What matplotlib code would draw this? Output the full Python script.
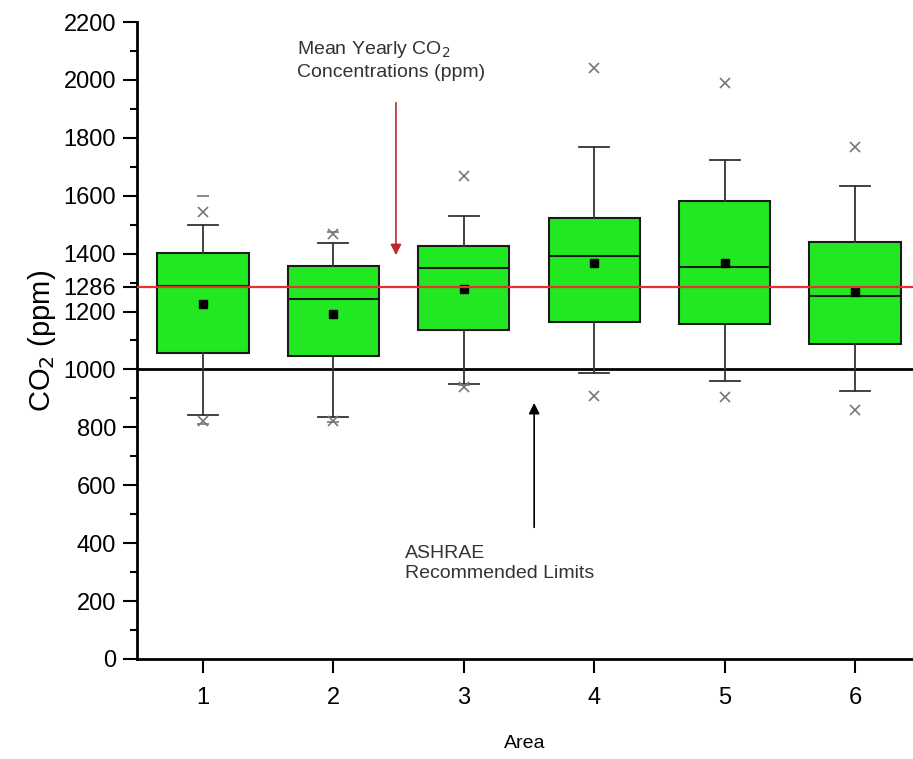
import numpy as np
import matplotlib.pyplot as plt

plt.rcParams['font.family'] = ['Liberation Sans', 'DejaVu Sans']

# box statistics per area (ppm)
areas = [1, 2, 3, 4, 5, 6]
q1 = [1056, 1045, 1136, 1163, 1157, 1088]
q3 = [1401, 1357, 1426, 1522, 1582, 1439]
medians = [1288, 1245, 1351, 1392, 1355, 1254]
means = [1226, 1190, 1278, 1369, 1369, 1267]
whisk_lo = [843, 835, 950, 989, 959, 927]
whisk_hi = [1499, 1435, 1531, 1768, 1723, 1635]
# 1% / 99% crosses
cross_lo = [822, 823, 940, 908, 906, 860]
cross_hi = [1545, 1468, 1668, 2041, 1989, 1770]
# min / max dashes
dash_lo = [810, 817, 946, None, None, None]
dash_hi = [1599, 1476, None, None, None, None]

yearly_mean = 1286
ashrae_limit = 1000

stats = []
for i in range(len(areas)):
    stats.append(dict(med=medians[i], q1=q1[i], q3=q3[i], mean=means[i],
                      whislo=whisk_lo[i], whishi=whisk_hi[i], fliers=[]))

fig = plt.figure(figsize=(9.13, 7.59), dpi=100)
ax = fig.add_axes([0.150, 0.1318, 0.85, 0.8392])

ax.bxp(stats, positions=areas, widths=0.7, capwidths=0.23,
       showmeans=True, patch_artist=True, showfliers=False,
       boxprops=dict(facecolor='#22e822', edgecolor='#1a1a1a', linewidth=1.5),
       medianprops=dict(color='#1a1a1a', linewidth=1.5),
       whiskerprops=dict(color='#333333', linewidth=1.3),
       capprops=dict(color='#333333', linewidth=1.3),
       meanprops=dict(marker='s', markerfacecolor='black', markeredgecolor='black',
                      markersize=6))

ax.plot(areas, cross_lo, 'x', color='#777777', markersize=7, mew=1.2, zorder=4)
ax.plot(areas, cross_hi, 'x', color='#777777', markersize=7, mew=1.2, zorder=4)
for a, v in zip(areas, dash_lo):
    if v is not None:
        ax.plot(a, v, '_', color='#777777', markersize=9, mew=1.2, zorder=4)
for a, v in zip(areas, dash_hi):
    if v is not None:
        ax.plot(a, v, '_', color='#777777', markersize=9, mew=1.2, zorder=4)

ax.axhline(yearly_mean, color='#e8312e', linewidth=1.6, zorder=5)
ax.axhline(ashrae_limit, color='black', linewidth=2.0, zorder=1)

ax.annotate('', xy=(2.48, 1385), xytext=(2.48, 1931),
            arrowprops=dict(arrowstyle='-|>', color='#c0272d', lw=1.2,
                            mutation_scale=16))
ax.annotate('', xy=(3.54, 894), xytext=(3.54, 445),
            arrowprops=dict(arrowstyle='-|>', color='black', lw=1.2,
                            mutation_scale=16))
ax.text(1.72, 2140, 'Mean Yearly CO$_2$\nConcentrations (ppm)', fontsize=14,
        color='#333333', va='top', ha='left', linespacing=1.3)
ax.text(2.55, 393, 'ASHRAE\nRecommended Limits', fontsize=14,
        color='#333333', va='top', ha='left', linespacing=1.2)

ax.set_xlim(0.494, 6.445)
ax.set_ylim(0, 2200)
ax.set_xticks(areas)
yt = [0, 200, 400, 600, 800, 1000, 1200, 1286, 1400, 1600, 1800, 2000, 2200]
ax.set_yticks(yt)
ax.set_yticklabels([str(v) for v in yt])
ax.set_yticks(np.arange(100, 2200, 200), minor=True)
ax.tick_params(axis='both', which='major', direction='out', length=10, width=1.5,
               labelsize=17, pad=5)
ax.tick_params(axis='y', which='minor', direction='out', length=5, width=1.5)
ax.tick_params(axis='x', pad=10)

for s in ['top', 'right']:
    ax.spines[s].set_visible(False)
for s in ['left', 'bottom']:
    ax.spines[s].set_linewidth(2)

ax.set_ylabel('CO$_2$ (ppm)', fontsize=21, labelpad=4)
ax.set_xlabel('Area', fontsize=14, labelpad=19)

fig.savefig('out.png', dpi=100)
